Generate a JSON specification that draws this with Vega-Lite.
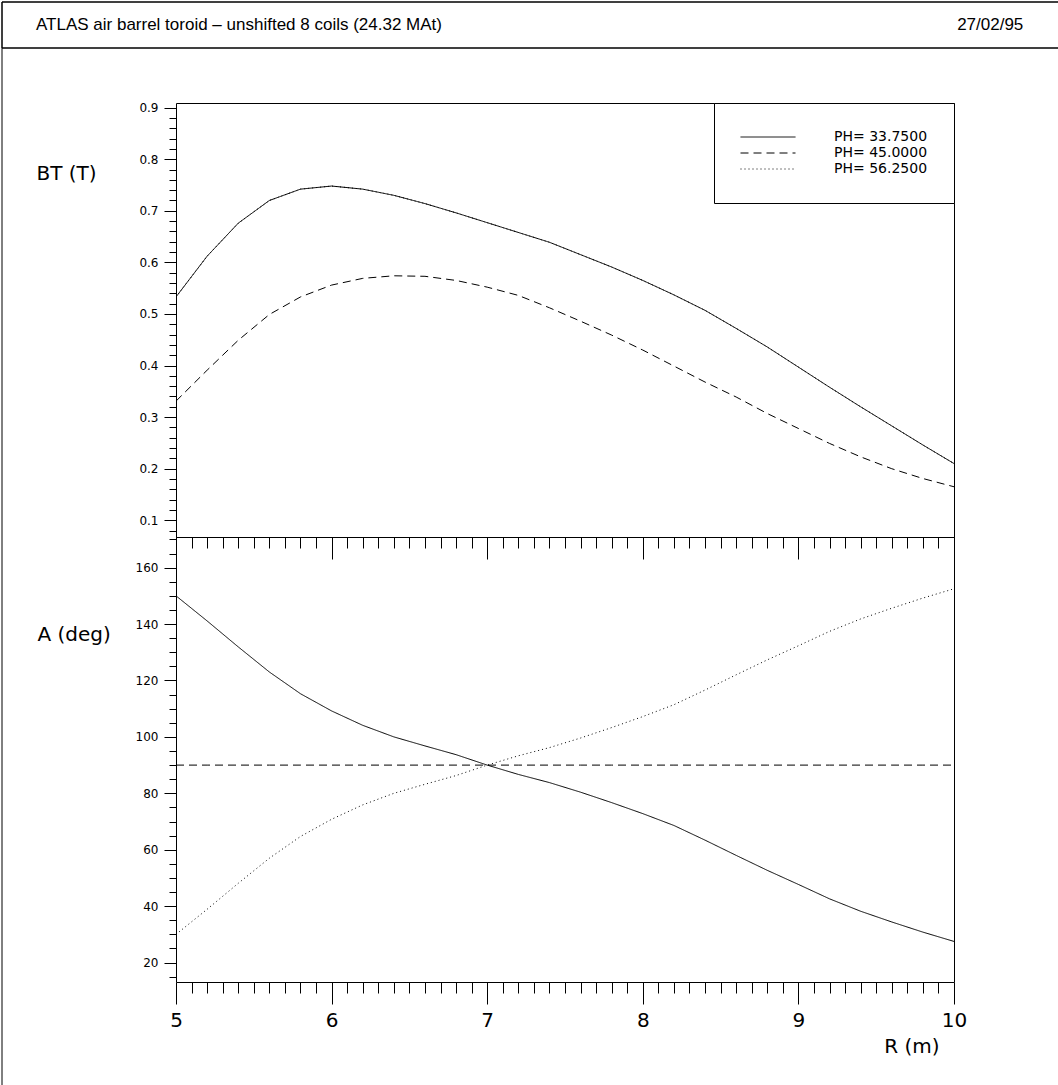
{
  "$schema": "https://vega.github.io/schema/vega-lite/v6.json",
  "background": "white",
  "padding": {"left": 1, "top": 1, "right": 0, "bottom": 0},
  "autosize": {"type": "pad"},
  "config": {"view": {"stroke": null}, "axis": {"grid": false, "domain": false, "tickColor": "black", "tickWidth": 1, "labelColor": "black", "titleColor": "black", "titleFontWeight": "normal"}},
  "datasets": {
    "header": [
      {"label": "ATLAS air barrel toroid – unshifted 8 coils (24.32 MAt)", "kind": "title"},
      {"label": "27/02/95", "kind": "date"}
    ],
    "curves": [
      {"r": 5.0, "bt": 0.533, "a": 150.0, "series": "PH= 33.7500"},
      {"r": 5.2, "bt": 0.612, "a": 141.1, "series": "PH= 33.7500"},
      {"r": 5.4, "bt": 0.676, "a": 131.9, "series": "PH= 33.7500"},
      {"r": 5.6, "bt": 0.720, "a": 123.0, "series": "PH= 33.7500"},
      {"r": 5.8, "bt": 0.742, "a": 115.3, "series": "PH= 33.7500"},
      {"r": 6.0, "bt": 0.748, "a": 109.2, "series": "PH= 33.7500"},
      {"r": 6.2, "bt": 0.742, "a": 104.1, "series": "PH= 33.7500"},
      {"r": 6.4, "bt": 0.730, "a": 100.0, "series": "PH= 33.7500"},
      {"r": 6.6, "bt": 0.714, "a": 96.8, "series": "PH= 33.7500"},
      {"r": 6.8, "bt": 0.696, "a": 93.7, "series": "PH= 33.7500"},
      {"r": 7.0, "bt": 0.677, "a": 90.0, "series": "PH= 33.7500"},
      {"r": 7.2, "bt": 0.658, "a": 86.7, "series": "PH= 33.7500"},
      {"r": 7.4, "bt": 0.639, "a": 83.8, "series": "PH= 33.7500"},
      {"r": 7.6, "bt": 0.615, "a": 80.4, "series": "PH= 33.7500"},
      {"r": 7.8, "bt": 0.591, "a": 76.7, "series": "PH= 33.7500"},
      {"r": 8.0, "bt": 0.565, "a": 72.8, "series": "PH= 33.7500"},
      {"r": 8.2, "bt": 0.537, "a": 68.6, "series": "PH= 33.7500"},
      {"r": 8.4, "bt": 0.507, "a": 63.4, "series": "PH= 33.7500"},
      {"r": 8.6, "bt": 0.472, "a": 58.0, "series": "PH= 33.7500"},
      {"r": 8.8, "bt": 0.436, "a": 52.7, "series": "PH= 33.7500"},
      {"r": 9.0, "bt": 0.397, "a": 47.7, "series": "PH= 33.7500"},
      {"r": 9.2, "bt": 0.358, "a": 42.6, "series": "PH= 33.7500"},
      {"r": 9.4, "bt": 0.320, "a": 38.2, "series": "PH= 33.7500"},
      {"r": 9.6, "bt": 0.283, "a": 34.4, "series": "PH= 33.7500"},
      {"r": 9.8, "bt": 0.246, "a": 30.8, "series": "PH= 33.7500"},
      {"r": 10.0, "bt": 0.210, "a": 27.5, "series": "PH= 33.7500"},
      {"r": 5.0, "bt": 0.331, "a": 90, "series": "PH= 45.0000"},
      {"r": 5.2, "bt": 0.391, "a": 90, "series": "PH= 45.0000"},
      {"r": 5.4, "bt": 0.449, "a": 90, "series": "PH= 45.0000"},
      {"r": 5.6, "bt": 0.499, "a": 90, "series": "PH= 45.0000"},
      {"r": 5.8, "bt": 0.533, "a": 90, "series": "PH= 45.0000"},
      {"r": 6.0, "bt": 0.556, "a": 90, "series": "PH= 45.0000"},
      {"r": 6.2, "bt": 0.569, "a": 90, "series": "PH= 45.0000"},
      {"r": 6.4, "bt": 0.574, "a": 90, "series": "PH= 45.0000"},
      {"r": 6.6, "bt": 0.573, "a": 90, "series": "PH= 45.0000"},
      {"r": 6.8, "bt": 0.565, "a": 90, "series": "PH= 45.0000"},
      {"r": 7.0, "bt": 0.552, "a": 90, "series": "PH= 45.0000"},
      {"r": 7.2, "bt": 0.536, "a": 90, "series": "PH= 45.0000"},
      {"r": 7.4, "bt": 0.512, "a": 90, "series": "PH= 45.0000"},
      {"r": 7.6, "bt": 0.486, "a": 90, "series": "PH= 45.0000"},
      {"r": 7.8, "bt": 0.459, "a": 90, "series": "PH= 45.0000"},
      {"r": 8.0, "bt": 0.430, "a": 90, "series": "PH= 45.0000"},
      {"r": 8.2, "bt": 0.399, "a": 90, "series": "PH= 45.0000"},
      {"r": 8.4, "bt": 0.368, "a": 90, "series": "PH= 45.0000"},
      {"r": 8.6, "bt": 0.339, "a": 90, "series": "PH= 45.0000"},
      {"r": 8.8, "bt": 0.307, "a": 90, "series": "PH= 45.0000"},
      {"r": 9.0, "bt": 0.278, "a": 90, "series": "PH= 45.0000"},
      {"r": 9.2, "bt": 0.249, "a": 90, "series": "PH= 45.0000"},
      {"r": 9.4, "bt": 0.223, "a": 90, "series": "PH= 45.0000"},
      {"r": 9.6, "bt": 0.200, "a": 90, "series": "PH= 45.0000"},
      {"r": 9.8, "bt": 0.181, "a": 90, "series": "PH= 45.0000"},
      {"r": 10.0, "bt": 0.165, "a": 90, "series": "PH= 45.0000"},
      {"r": 5.0, "bt": 0.533, "a": 30.0, "series": "PH= 56.2500"},
      {"r": 5.2, "bt": 0.612, "a": 38.9, "series": "PH= 56.2500"},
      {"r": 5.4, "bt": 0.676, "a": 48.1, "series": "PH= 56.2500"},
      {"r": 5.6, "bt": 0.720, "a": 57.0, "series": "PH= 56.2500"},
      {"r": 5.8, "bt": 0.742, "a": 64.7, "series": "PH= 56.2500"},
      {"r": 6.0, "bt": 0.748, "a": 70.8, "series": "PH= 56.2500"},
      {"r": 6.2, "bt": 0.742, "a": 75.9, "series": "PH= 56.2500"},
      {"r": 6.4, "bt": 0.730, "a": 80.0, "series": "PH= 56.2500"},
      {"r": 6.6, "bt": 0.714, "a": 83.2, "series": "PH= 56.2500"},
      {"r": 6.8, "bt": 0.696, "a": 86.3, "series": "PH= 56.2500"},
      {"r": 7.0, "bt": 0.677, "a": 90.0, "series": "PH= 56.2500"},
      {"r": 7.2, "bt": 0.658, "a": 93.3, "series": "PH= 56.2500"},
      {"r": 7.4, "bt": 0.639, "a": 96.2, "series": "PH= 56.2500"},
      {"r": 7.6, "bt": 0.615, "a": 99.6, "series": "PH= 56.2500"},
      {"r": 7.8, "bt": 0.591, "a": 103.3, "series": "PH= 56.2500"},
      {"r": 8.0, "bt": 0.565, "a": 107.2, "series": "PH= 56.2500"},
      {"r": 8.2, "bt": 0.537, "a": 111.4, "series": "PH= 56.2500"},
      {"r": 8.4, "bt": 0.507, "a": 116.6, "series": "PH= 56.2500"},
      {"r": 8.6, "bt": 0.472, "a": 122.0, "series": "PH= 56.2500"},
      {"r": 8.8, "bt": 0.436, "a": 127.3, "series": "PH= 56.2500"},
      {"r": 9.0, "bt": 0.397, "a": 132.3, "series": "PH= 56.2500"},
      {"r": 9.2, "bt": 0.358, "a": 137.4, "series": "PH= 56.2500"},
      {"r": 9.4, "bt": 0.320, "a": 141.8, "series": "PH= 56.2500"},
      {"r": 9.6, "bt": 0.283, "a": 145.6, "series": "PH= 56.2500"},
      {"r": 9.8, "bt": 0.246, "a": 149.2, "series": "PH= 56.2500"},
      {"r": 10.0, "bt": 0.210, "a": 152.5, "series": "PH= 56.2500"}
    ]
  },
  "bounds": "flush",
  "spacing": 0,
  "vconcat": [
    {
      "width": 1056,
      "height": 46,
      "data": {"name": "header"},
      "layer": [
        {"mark": {"type": "rule", "color": "black", "strokeWidth": 1}, "encoding": {"y": {"datum": 1, "type": "quantitative", "scale": {"domain": [0, 1]}, "axis": null}}},
        {"mark": {"type": "rule", "color": "black", "strokeWidth": 1}, "encoding": {"y": {"datum": 0, "type": "quantitative", "scale": {"domain": [0, 1]}, "axis": null}}},
        {"mark": {"type": "rule", "color": "black", "strokeWidth": 1}, "encoding": {"x": {"datum": 0, "type": "quantitative", "scale": {"domain": [0, 1]}, "axis": null}}},
        {
          "transform": [{"filter": "datum.kind === 'title'"}],
          "mark": {"type": "text", "align": "left", "baseline": "middle", "font": "Liberation Sans", "fontSize": 17, "color": "black"},
          "encoding": {"x": {"datum": 0.0322, "type": "quantitative", "scale": {"domain": [0, 1]}, "axis": null}, "text": {"field": "label"}}
        },
        {
          "transform": [{"filter": "datum.kind === 'date'"}],
          "mark": {"type": "text", "align": "left", "baseline": "middle", "font": "Liberation Sans", "fontSize": 17, "color": "black"},
          "encoding": {"x": {"datum": 0.9045, "type": "quantitative", "scale": {"domain": [0, 1]}, "axis": null}, "text": {"field": "label"}}
        }
      ]
    },
    {
      "bounds": "flush",
      "spacing": 0,
      "hconcat": [
        {
          "width": 174,
          "height": 1037,
          "data": {"values": [{"edge": "left"}]},
          "mark": {"type": "rule", "color": "black", "strokeWidth": 1},
          "encoding": {"x": {"datum": 0, "type": "quantitative", "scale": {"domain": [0, 1]}, "axis": null}}
        },
        {
          "bounds": "flush",
          "spacing": 0,
          "resolve": {"scale": {"strokeDash": "independent"}, "legend": {"strokeDash": "independent"}},
          "vconcat": [
            {
              "width": 778,
              "height": 55,
              "data": {"values": []},
              "mark": "point"
            },
            {
              "width": 778,
              "height": 434,
              "view": {"stroke": "black", "strokeWidth": 1},
              "data": {"name": "curves"},
              "mark": {"type": "line", "color": "black", "strokeWidth": 1, "clip": true},
              "encoding": {
                "x": {
                  "field": "r", "type": "quantitative",
                  "scale": {"domain": [5, 10], "nice": false, "zero": false},
                  "axis": {
                    "orient": "bottom", "title": null, "labels": false,
                    "values": [5,5.1,5.2,5.3,5.4,5.5,5.6,5.7,5.8,5.9,6,6.1,6.2,6.3,6.4,6.5,6.6,6.7,6.8,6.9,7,7.1,7.2,7.3,7.4,7.5,7.6,7.7,7.8,7.9,8,8.1,8.2,8.3,8.4,8.5,8.6,8.7,8.8,8.9,9,9.1,9.2,9.3,9.4,9.5,9.6,9.7,9.8,9.9,10],
                    "tickSize": {"condition": {"test": "abs(datum.value - round(datum.value)) < 0.001", "value": 22}, "value": 11}
                  }
                },
                "y": {
                  "field": "bt", "type": "quantitative",
                  "scale": {"domain": [0.0676, 0.909], "nice": false, "zero": false},
                  "axis": {
                    "orient": "left",
                    "title": "BT (T)", "titleAngle": 0, "titleAlign": "left", "titleBaseline": "middle",
                    "titleX": -140, "titleY": 70, "titleFont": "DejaVu Sans", "titleFontSize": 20,
                    "values": [0.08,0.1,0.12,0.14,0.16,0.18,0.2,0.22,0.24,0.26,0.28,0.3,0.32,0.34,0.36,0.38,0.4,0.42,0.44,0.46,0.48,0.5,0.52,0.54,0.56,0.58,0.6,0.62,0.64,0.66,0.68,0.7,0.72,0.74,0.76,0.78,0.8,0.82,0.84,0.86,0.88,0.9],
                    "labelExpr": "abs(datum.value*10 - round(datum.value*10)) < 0.001 ? format(datum.value, '.1f') : ''",
                    "labelFont": "DejaVu Sans", "labelFontSize": 12, "labelPadding": 6, "labelOverlap": false,
                    "tickSize": {"condition": {"test": "abs(datum.value*10 - round(datum.value*10)) < 0.001", "value": 12}, "value": 7}
                  }
                },
                "strokeDash": {
                  "field": "series", "type": "nominal",
                  "scale": {"domain": ["PH= 33.7500", "PH= 45.0000", "PH= 56.2500"], "range": [[1, 0], [8, 5], [1, 3]]},
                  "legend": {
                    "orient": "top-right", "offset": 0, "title": null,
                    "strokeColor": "black", "fillColor": "white", "padding": 26,
                    "clipHeight": 16, "rowPadding": 0,
                    "symbolType": "stroke", "symbolSize": 3025, "symbolStrokeWidth": 1, "symbolStrokeColor": "black",
                    "labelFont": "DejaVu Sans", "labelFontSize": 14, "labelColor": "black", "labelOffset": 38
                  }
                }
              }
            },
            {
              "width": 778,
              "height": 445,
              "view": {"stroke": "black", "strokeWidth": 1},
              "data": {"name": "curves"},
              "mark": {"type": "line", "color": "black", "strokeWidth": 1, "clip": true},
              "encoding": {
                "x": {
                  "field": "r", "type": "quantitative",
                  "scale": {"domain": [5, 10], "nice": false, "zero": false},
                  "axis": {
                    "orient": "bottom",
                    "title": "R (m)", "titleAlign": "right", "titleBaseline": "middle", "titleX": 763, "titleY": 64,
                    "titleFont": "DejaVu Sans", "titleFontSize": 20,
                    "values": [5,5.1,5.2,5.3,5.4,5.5,5.6,5.7,5.8,5.9,6,6.1,6.2,6.3,6.4,6.5,6.6,6.7,6.8,6.9,7,7.1,7.2,7.3,7.4,7.5,7.6,7.7,7.8,7.9,8,8.1,8.2,8.3,8.4,8.5,8.6,8.7,8.8,8.9,9,9.1,9.2,9.3,9.4,9.5,9.6,9.7,9.8,9.9,10],
                    "labelExpr": "abs(datum.value - round(datum.value)) < 0.001 ? format(datum.value, 'd') : ''",
                    "labelFont": "DejaVu Sans", "labelFontSize": 20, "labelPadding": 6, "labelFlush": false, "labelOverlap": false,
                    "tickSize": {"condition": {"test": "abs(datum.value - round(datum.value)) < 0.001", "value": 22}, "value": 11}
                  }
                },
                "y": {
                  "field": "a", "type": "quantitative",
                  "scale": {"domain": [13.12, 170.85], "nice": false, "zero": false},
                  "axis": {
                    "orient": "left",
                    "title": "A (deg)", "titleAngle": 0, "titleAlign": "left", "titleBaseline": "middle",
                    "titleX": -139, "titleY": 97, "titleFont": "DejaVu Sans", "titleFontSize": 20,
                    "values": [15,20,25,30,35,40,45,50,55,60,65,70,75,80,85,90,95,100,105,110,115,120,125,130,135,140,145,150,155,160,165,170],
                    "labelExpr": "datum.value % 20 === 0 ? format(datum.value, 'd') : ''",
                    "labelFont": "DejaVu Sans", "labelFontSize": 12, "labelPadding": 6, "labelOverlap": false,
                    "tickSize": {"condition": {"test": "datum.value % 20 === 0", "value": 12}, "value": 7}
                  }
                },
                "strokeDash": {
                  "field": "series", "type": "nominal",
                  "scale": {"domain": ["PH= 33.7500", "PH= 45.0000", "PH= 56.2500"], "range": [[1, 0], [8, 5], [1, 3]]},
                  "legend": null
                }
              }
            }
          ]
        }
      ]
    }
  ]
}
